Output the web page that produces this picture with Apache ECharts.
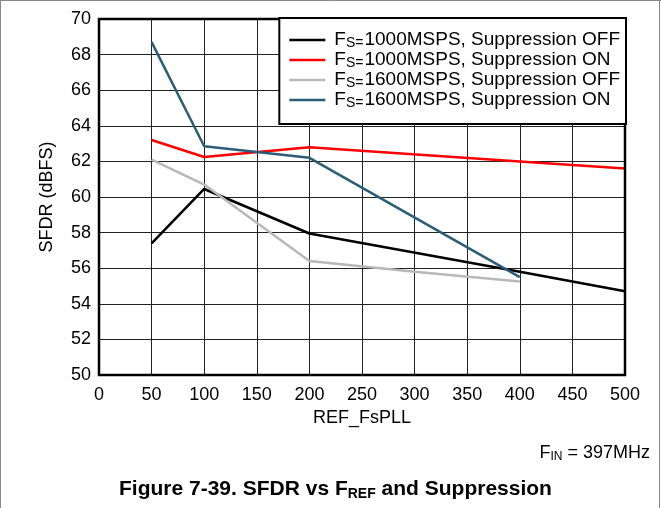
<!DOCTYPE html>
<html><head><meta charset="utf-8">
<script src="https://cdn.jsdelivr.net/npm/echarts@6/dist/echarts.min.js"></script>
<style>html,body{margin:0;padding:0;background:#fff}#c{width:661px;height:508px}</style>
</head><body><div id="c"></div>
<script>
const xTicks = [0,50,100,150,200,250,300,350,400,450,500];
const fs1000Off = [[50,57.4],[100,60.45],[200,57.95],[400,55.8],[500,54.7]];
const fs1000On  = [[50,63.2],[100,62.25],[200,62.8],[400,62.0],[500,61.6]];
const fs1600Off = [[50,62.1],[100,60.7],[200,56.4],[300,55.8],[400,55.25]];
const fs1600On  = [[50,68.7],[100,62.85],[200,62.2],[400,55.5]];
const names = ['1000MSPS, Suppression OFF','1000MSPS, Suppression ON','1600MSPS, Suppression OFF','1600MSPS, Suppression ON'];
const colors = ['#000000','#ff0000','#b8b8b8','#2b5d78'];
const datas = [fs1000Off, fs1000On, fs1600Off, fs1600On];
const FONT = 'Liberation Sans, Arial, sans-serif';
const chart = echarts.init(document.getElementById('c'));
chart.setOption({
  animation:false,
  grid:{left:99,top:19,right:36,bottom:133,show:true,borderColor:'#000',borderWidth:2.5,z:5},
  xAxis:{type:'value',min:0,max:500,interval:50,
    axisLine:{show:false},axisTick:{show:false},
    axisLabel:{color:'#000',fontSize:18,fontFamily:FONT,margin:11},
    splitLine:{show:true,lineStyle:{color:'#222',width:1}},
    name:'REF_FsPLL',nameLocation:'middle',nameGap:34,
    nameTextStyle:{color:'#000',fontSize:18,fontFamily:FONT}},
  yAxis:{type:'value',min:50,max:70,interval:2,
    axisLine:{show:false},axisTick:{show:false},
    axisLabel:{color:'#000',fontSize:18,fontFamily:FONT,margin:8},
    splitLine:{show:true,lineStyle:{color:'#222',width:1}},
    name:'SFDR (dBFS)',nameLocation:'middle',nameGap:43,
    nameTextStyle:{color:'#000',fontSize:18,fontFamily:FONT}},
  legend:{
    orient:'vertical',right:35,top:18,
    backgroundColor:'#fff',borderColor:'#000',borderWidth:2,
    padding:[12,6,14,10],itemGap:0,itemWidth:36,itemHeight:18,
    icon:'path://M0,0 L36,0 L36,2.5 L0,2.5 Z',
    data:names,
    formatter:function(n){return '{a|F}{s|S=}{b|'+n+'}';},
    textStyle:{fontFamily:FONT,color:'#000',lineHeight:18,
      rich:{a:{fontSize:19,fontFamily:FONT,color:'#000',padding:[0,0,0,4],lineHeight:18},
            b:{fontSize:19,fontFamily:FONT,color:'#000',lineHeight:18},
            s:{fontSize:14,fontFamily:FONT,color:'#000',padding:[6,1,0,0],lineHeight:12}}},
    z:10
  },
  graphic:[
    {type:'text',right:11,top:444,style:{text:'{a|F}{s|IN}{a| = 397MHz}',
      rich:{a:{fontSize:18,fontFamily:FONT,fill:'#000'},s:{fontSize:12,fontFamily:FONT,fill:'#000',padding:[8,0,0,0]}}}},
    {type:'text',left:119,top:479,style:{text:'{a|Figure 7-39. SFDR vs F}{s|REF}{a| and Suppression}',
      rich:{a:{fontSize:21,fontWeight:'bold',fontFamily:FONT,fill:'#000'},s:{fontSize:14,fontWeight:'bold',fontFamily:FONT,fill:'#000',padding:[9,0,0,0]}}}},
    {type:'line',shape:{x1:0.5,y1:0,x2:0.5,y2:508},style:{stroke:'#888',lineWidth:1}},
    {type:'line',shape:{x1:659.5,y1:0,x2:659.5,y2:508},style:{stroke:'#888',lineWidth:1}},
    {type:'line',shape:{x1:0,y1:0.5,x2:661,y2:0.5},style:{stroke:'#888',lineWidth:1}}
  ],
  series: datas.map((d,i)=>({name:names[i],type:'line',data:d,showSymbol:false,
    symbol:'none',color:colors[i],lineStyle:{color:colors[i],width:2.5},z:3}))
});
</script></body></html>
